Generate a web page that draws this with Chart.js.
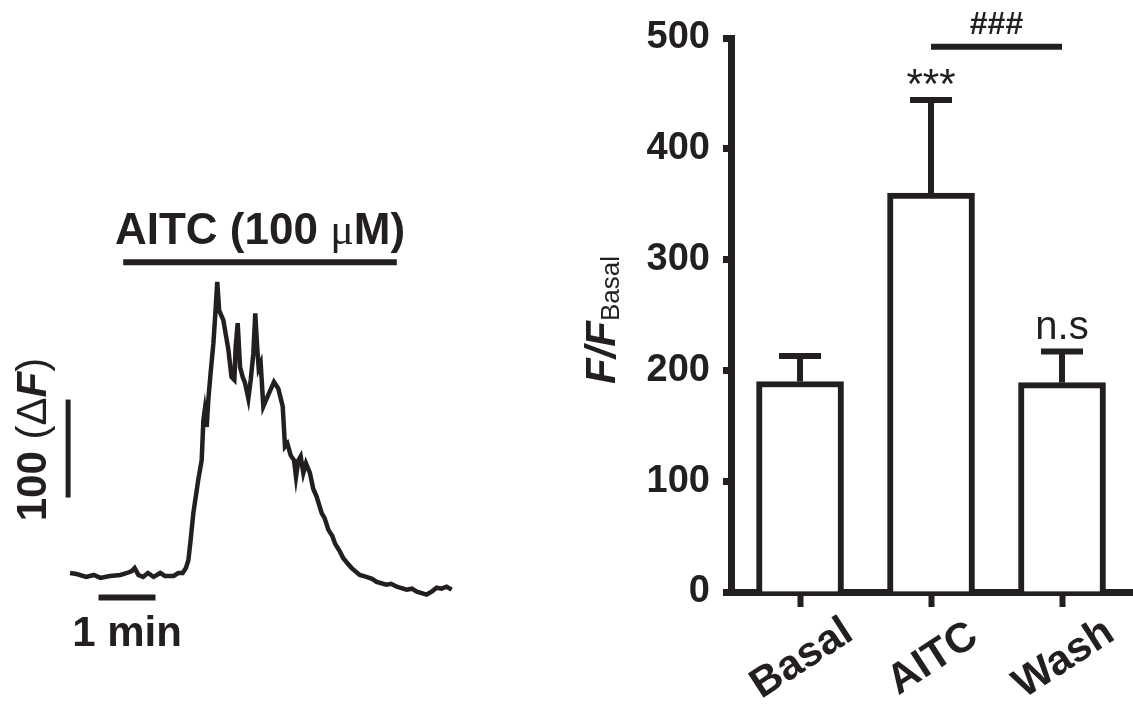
<!DOCTYPE html>
<html>
<head>
<meta charset="utf-8">
<script src="https://cdn.jsdelivr.net/npm/chart.js@4.4.0/dist/chart.umd.min.js"></script>
<style>
  html, body { margin: 0; padding: 0; background: #fff; }
  #wrap { position: relative; width: 1133px; height: 705px; overflow: hidden; }
  #trace { position: absolute; left: 0; top: 0; }
  #bars { position: absolute; left: 560px; top: 0; }
</style>
</head>
<body>
<div id="wrap">
  <canvas id="trace" width="560" height="705"></canvas>
  <canvas id="bars" width="573" height="705"></canvas>
</div>
<script>
const INK = '#231f20';
const SANS = '"Liberation Sans", Arial, Helvetica, sans-serif';

// calcium trace: time (s) and fluorescence change (ΔF)
const traceTime = [
  0, 7, 17, 25, 32, 42, 53, 60, 65, 68,
  72, 77, 82, 88, 95, 100, 109, 114, 118.6, 122,
  124.6, 127, 129.8, 135, 138.6, 140.4, 141.8, 143.9, 145.6, 148,
  150.9, 153, 155, 157, 161.4, 166.7, 170, 173, 174.4, 176.5,
  179, 181.8, 184.2, 187.7, 190.2, 193, 195, 197, 198.6, 200.7,
  203.5, 207, 214.7, 219.3, 223.9, 226.3, 228.8, 232.3, 235.8, 237.9,
  240.4, 242.8, 245.6, 248.4, 252.6, 256, 259.6, 265, 268, 272,
  276, 279, 284, 287.7, 292, 296.5, 305, 312, 318, 322.8,
  333, 338, 344, 354.4, 360, 365, 375.4, 380.7, 386, 391,
  396.5, 401.8
];
const traceDF = [
  0, -1, -4, -2, -5, -3, -2, 0, 2, 5,
  -2, -4, 0, -4, 0, -3, -3, 0, 0, 5,
  13, 34, 61, 95, 115, 156, 166, 149, 177, 204,
  234, 265, 297, 268, 258, 228, 200, 197, 231, 255,
  210, 200, 194, 178, 197, 224, 265, 231, 209, 214,
  170, 178, 195, 188, 170, 129, 132, 120, 115, 98,
  115, 119, 102, 112, 102, 86, 78, 61, 56, 44,
  38, 30, 22, 15, 10, 5, -2, -4, -6, -9,
  -12, -11, -14, -17, -16, -19, -22, -19, -15, -16,
  -14, -17
];

// scale bars and drug application bar
const dfBarTime = [-2, -2];
const dfBarValue = [77, 177];
const minBarTime = [30, 90];
const minBarValue = [-25, -25];
const aitcBarTime = [56, 344];
const aitcBarValue = [317, 317];

// summary bar chart
const groups = ['Basal', 'AITC', 'Wash'];
const meanRatio = [190, 360, 189];
const semRatio = [23, 84, 28];
const yTicks = [0, 100, 200, 300, 400, 500];
const marks = ['', '***', 'n.s'];
const bracketLevel = 492;

function pts(xs, ys) {
  return xs.map((x, i) => ({ x: x, y: ys[i] }));
}

// draws a row of text pieces with different fonts
function drawRuns(ctx, runs, x, y) {
  let total = 0;
  runs.forEach(r => {
    ctx.font = r.font;
    r.w = ctx.measureText(r.text).width;
    total += r.w;
  });
  let cx = x - total / 2;
  ctx.textAlign = 'left';
  ctx.textBaseline = 'alphabetic';
  runs.forEach(r => {
    ctx.font = r.font;
    ctx.fillText(r.text, cx, y + (r.dy || 0));
    cx += r.w;
  });
}

const traceLabels = {
  id: 'traceLabels',
  afterDraw(chart) {
    const { ctx, scales: { x, y } } = chart;
    ctx.save();
    ctx.fillStyle = INK;

    const ax = (x.getPixelForValue(aitcBarTime[0]) + x.getPixelForValue(aitcBarTime[1])) / 2;
    const ay = y.getPixelForValue(aitcBarValue[0]) - 18;
    drawRuns(ctx, [
      { text: 'AITC (100 ', font: `bold 44px ${SANS}` },
      { text: 'μ', font: '44px "Liberation Serif", serif' },
      { text: 'M)', font: `bold 44px ${SANS}` }
    ], ax, ay);

    const mx = (x.getPixelForValue(minBarTime[0]) + x.getPixelForValue(minBarTime[1])) / 2;
    const my = y.getPixelForValue(minBarValue[0]) + 49;
    drawRuns(ctx, [{ text: '1 min', font: `bold 42px ${SANS}` }], mx, my);

    const dx = x.getPixelForValue(dfBarTime[0]) - 22;
    const dy = (y.getPixelForValue(dfBarValue[0]) + y.getPixelForValue(dfBarValue[1])) / 2 - 9;
    ctx.translate(dx, dy);
    ctx.rotate(-Math.PI / 2);
    drawRuns(ctx, [
      { text: '100 ', font: `bold 42px ${SANS}` },
      { text: '(Δ', font: `42px ${SANS}` },
      { text: 'F', font: `italic bold 42px ${SANS}` },
      { text: ')', font: `42px ${SANS}` }
    ], 0, 0);
    ctx.restore();
  }
};

new Chart(document.getElementById('trace'), {
  type: 'line',
  data: {
    datasets: [
      { data: pts(traceTime, traceDF), borderColor: INK, borderWidth: 4.5 },
      { data: pts(dfBarTime, dfBarValue), borderColor: INK, borderWidth: 5 },
      { data: pts(minBarTime, minBarValue), borderColor: INK, borderWidth: 6 },
      { data: pts(aitcBarTime, aitcBarValue), borderColor: INK, borderWidth: 6 }
    ]
  },
  options: {
    responsive: false,
    animation: false,
    elements: {
      line: { tension: 0, fill: false, borderJoinStyle: 'miter' },
      point: { radius: 0, hoverRadius: 0 }
    },
    scales: {
      x: { type: 'linear', display: false, min: -73.7, max: 515.8 },
      y: { type: 'linear', display: false, min: -134.7, max: 584.7 }
    },
    plugins: { legend: { display: false }, tooltip: { enabled: false } }
  },
  plugins: [traceLabels]
});

const barExtras = {
  id: 'barExtras',
  afterDatasetsDraw(chart) {
    const { ctx, scales: { x, y } } = chart;
    const meta = chart.getDatasetMeta(0);
    ctx.save();
    ctx.strokeStyle = INK;
    ctx.fillStyle = INK;
    ctx.lineCap = 'butt';
    ctx.lineWidth = 6;

    // error bars (upper only)
    meta.data.forEach((bar, i) => {
      const top = y.getPixelForValue(meanRatio[i]);
      const tip = y.getPixelForValue(meanRatio[i] + semRatio[i]);
      ctx.beginPath();
      ctx.moveTo(bar.x, top);
      ctx.lineTo(bar.x, tip);
      ctx.stroke();
      ctx.beginPath();
      ctx.moveTo(bar.x - 21, tip);
      ctx.lineTo(bar.x + 21, tip);
      ctx.stroke();
    });

    // significance marks
    ctx.textAlign = 'center';
    ctx.textBaseline = 'alphabetic';
    marks.forEach((m, i) => {
      if (!m) return;
      const tip = y.getPixelForValue(meanRatio[i] + semRatio[i]);
      const px = x.getPixelForValue(i);
      if (m === 'n.s') {
        ctx.font = `40px ${SANS}`;
        ctx.fillText(m, px, tip - 13);
      } else {
        ctx.font = `42px ${SANS}`;
        ctx.fillText(m, px, tip - 2);
      }
    });

    // AITC vs Wash bracket
    const by = y.getPixelForValue(bracketLevel);
    const x1 = x.getPixelForValue(1), x2 = x.getPixelForValue(2);
    ctx.beginPath();
    ctx.moveTo(x1, by);
    ctx.lineTo(x2, by);
    ctx.stroke();
    ctx.font = `bold 32px ${SANS}`;
    ctx.fillText('###', (x1 + x2) / 2, by - 13);
    ctx.restore();
  },
  afterDraw(chart) {
    const { ctx, scales: { x }, chartArea } = chart;
    ctx.save();
    ctx.fillStyle = INK;

    // rotated group labels
    ctx.font = `bold 42px ${SANS}`;
    ctx.textAlign = 'center';
    ctx.textBaseline = 'middle';
    groups.forEach((g, i) => {
      ctx.save();
      ctx.translate(x.getPixelForValue(i) + 2, chartArea.bottom + 67);
      ctx.rotate(-33 * Math.PI / 180);
      ctx.fillText(g, 0, 0);
      ctx.restore();
    });

    // y axis title F/F_Basal
    ctx.translate(chartArea.left - 116, 320);
    ctx.rotate(-Math.PI / 2);
    drawRuns(ctx, [
      { text: 'F/F', font: `italic bold 42px ${SANS}` },
      { text: 'Basal', font: `26px ${SANS}`, dy: 4 }
    ], 0, 0);
    ctx.restore();
  }
};

new Chart(document.getElementById('bars'), {
  type: 'bar',
  data: {
    datasets: [{
      data: pts(groups.map((g, i) => i), meanRatio),
      backgroundColor: '#ffffff',
      borderColor: INK,
      borderWidth: 6,
      borderSkipped: 'start',
      barThickness: 87
    }]
  },
  options: {
    responsive: false,
    animation: false,
    layout: { padding: { top: 38, bottom: 98, left: 0, right: 0 } },
    scales: {
      x: {
        type: 'linear',
        min: -0.527,
        max: 2.542,
        offset: false,
        afterBuildTicks: s => { s.ticks = groups.map((g, i) => ({ value: i })); },
        afterFit: s => { s.height = 15; },
        ticks: { display: false },
        grid: { offset: false, drawOnChartArea: false, drawTicks: true, tickLength: 15, tickWidth: 6, color: INK },
        border: { display: true, width: 7, color: INK }
      },
      y: {
        min: 0,
        max: 500,
        afterBuildTicks: s => { s.ticks = yTicks.map(v => ({ value: v })); },
        afterFit: s => { s.width = 171; },
        ticks: { color: INK, padding: 13, font: { family: SANS, size: 38, weight: 'bold' } },
        grid: { drawOnChartArea: false, drawTicks: true, tickLength: 8, tickWidth: 7, color: INK },
        border: { display: true, width: 7, color: INK }
      }
    },
    plugins: { legend: { display: false }, tooltip: { enabled: false } }
  },
  plugins: [barExtras]
});
</script>
</body>
</html>
